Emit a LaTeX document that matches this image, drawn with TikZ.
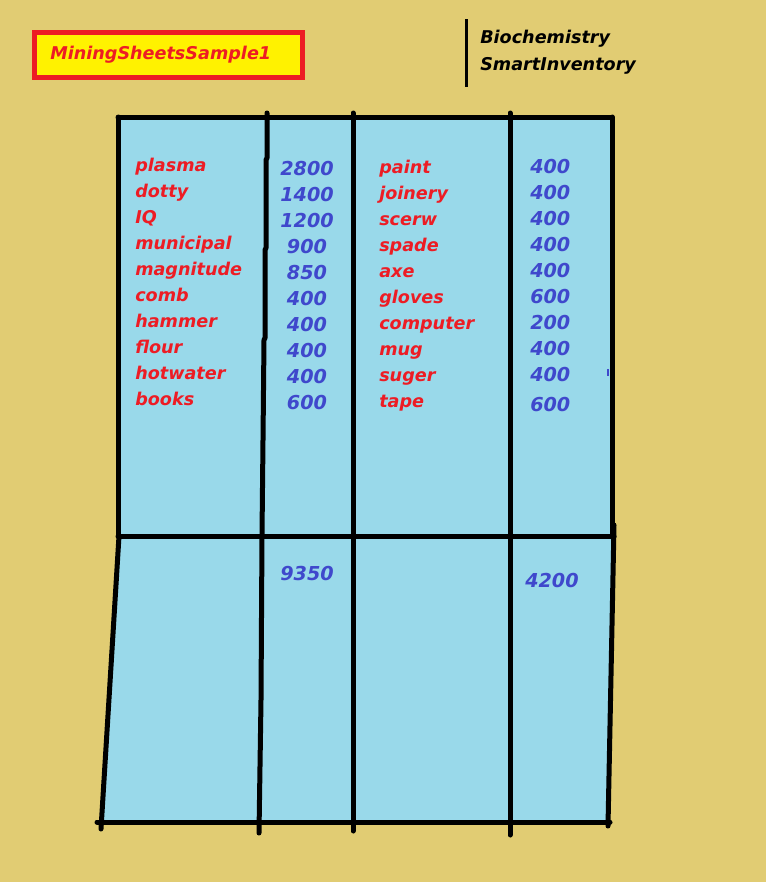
\documentclass[tikz,border=0pt]{standalone}
\usepackage{fontspec}
\setmainfont{DejaVu Sans}
\definecolor{bg}{HTML}{E1CC73}
\definecolor{cell}{HTML}{99D9EA}
\definecolor{redt}{HTML}{ED1C24}
\definecolor{bluet}{HTML}{3F48CC}
\definecolor{yel}{HTML}{FFF200}
\tikzset{
  itemname/.style={text=redt, font=\fontsize{13.2}{15}\selectfont\bfseries\itshape, anchor=base west, inner sep=0pt},
  numc/.style={text=bluet, font=\fontsize{14.4}{16}\selectfont\bfseries\itshape, anchor=base, inner sep=0pt},
  numl/.style={numc, anchor=base west},
  gridline/.style={line width=3.75pt, line cap=round, line join=round, black},
  headtext/.style={text=black, font=\fontsize{13.2}{15}\selectfont\bfseries\itshape, anchor=base west, inner sep=0pt}
}
\begin{document}
\begin{tikzpicture}[x=0.75pt,y=-0.75pt]
\fill[bg] (0,0) rectangle (766,882);
\useasboundingbox (0,0) rectangle (766,882);
% title box
\draw[line width=3.75pt, draw=redt, fill=yel] (34.5,32.5) rectangle (302.5,77.5);
\node[itemname, anchor=base west] (title) at (50,59) {MiningSheetsSample1};
% header
\draw[line width=2.25pt] (466,19) -- (466,87);
\node[headtext] (h1) at (480,43) {Biochemistry};
\node[headtext] (h2) at (480,70) {SmartInventory};
% table fill
\fill[cell] (118,117) -- (612,117) -- (613,536) -- (608,822) -- (101,822) -- (119,536) -- cycle;
% grid
\draw[gridline] (118,117) -- (612,117);
\draw[gridline] (118,117) -- (118,536);
\draw[gridline] (119,536) -- (101,829);
\draw[gridline] (612,117) -- (612,536);
\draw[gridline] (614,525) -- (608,826);
\draw[gridline] (118,536) -- (614,536);
\draw[gridline] (97,822) -- (610,822);
\draw[gridline] (267,113) -- (267,158) -- (266,160) -- (266,248) -- (265,250) -- (265,338) -- (264,340) -- (263,440) -- (262,535) -- (261,700) -- (259,833);
\draw[gridline] (353,113) -- (353,831);
\draw[gridline] (510,113) -- (510,835);
\draw[bluet, line width=1pt] (608,369) -- (608,376);
% left names
\foreach \t [count=\i] in {plasma,dotty,IQ,municipal,magnitude,comb,hammer,flour,hotwater,books}
  \node[itemname] (ln\i) at (135,{171+26*(\i-1)}) {\t};
\foreach \t [count=\i] in {2800,1400,1200,900,850,400,400,400,400,600}
  \node[numc] (lv\i) at (307,{175+26*(\i-1)}) {\t};
\foreach \t [count=\i] in {paint,joinery,scerw,spade,axe,gloves,computer,mug,suger,tape}
  \node[itemname] (rn\i) at (379,{173+26*(\i-1)}) {\t};
\foreach \t [count=\i] in {400,400,400,400,400,600,200,400,400}
  \node[numl] (rv\i) at (530,{173+26*(\i-1)}) {\t};
\node[numl] (rv10) at (530,411) {600};
% totals
\node[numc] (tot1) at (307,580) {9350};
\node[numl] (tot2) at (525,587) {4200};
\end{tikzpicture}
\end{document}
